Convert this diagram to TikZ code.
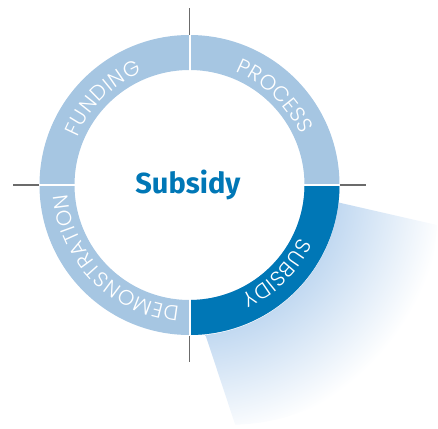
\documentclass[tikz,border=0pt]{standalone}
\usepackage{fontspec}
\usetikzlibrary{decorations.text}
\newfontfamily\ringfont{Poppins Light}
\newfontfamily\titlefont{Fira Sans Bold}
\definecolor{lightseg}{HTML}{A6C6E2}
\definecolor{darkseg}{HTML}{0077B6}
\definecolor{tickgray}{HTML}{6B6B6B}
\definecolor{fanblue}{HTML}{C2D9F1}
\pgfdeclareradialshading{fanshade}{\pgfpointorigin}{color(0pt)=(fanblue); color(150pt)=(fanblue); color(255pt)=(white); color(300pt)=(white)}
\tikzset{
  ringlabel/.style={decorate, decoration={text along path, text color=white, text align={fit to path},
    text={|\ringfont\fontsize{21pt}{21pt}\selectfont|#1}}},
  gapline/.style={white, line width=2pt},
  tickline/.style={tickgray, line width=1.2pt}
}
\begin{document}
\begin{tikzpicture}[x=1pt,y=1pt]
\useasboundingbox (-189.5,-243) rectangle (248.5,185);
% light fan
\begin{scope}
\clip (148.2,-17.3) -- (247.5,-40) arc[start angle=-2,end angle=-88.6,radius=207] -- (16,-150) arc[start angle=-83.9,end angle=-6.66,radius=150] -- cycle;
\node[inner sep=0pt,outer sep=0pt] (fan) at (0,0) {\pgfuseshading{fanshade}};
\end{scope}
% ring
\fill[lightseg, even odd rule] (0,0) circle[radius=150] (0,0) circle[radius=115];
\fill[darkseg] (0:150) arc[start angle=0,end angle=-90,radius=150] -- (-90:115) arc[start angle=-90,end angle=0,radius=115] -- cycle;
\draw[gapline] (113,0) -- (151,0);
\draw[gapline] (-113,0) -- (-151,0);
\draw[gapline] (0,113) -- (0,151);
\draw[gapline] (0,-113) -- (0,-151);
% ticks
\draw[tickline] (0,150) -- (0,177);
\draw[tickline] (0,-151) -- (0,-177);
\draw[tickline] (-150,0) -- (-176.5,0);
\draw[tickline] (150,0) -- (176.5,0);
% labels
\path[ringlabel=FUNDING] (157:122) arc[start angle=157,end angle=113,radius=122];
\path[ringlabel=PROCESS] (68:122) arc[start angle=68,end angle=24.5,radius=122];
\path[ringlabel=SUBSIDY] (-25.5:122) arc[start angle=-25.5,end angle=-64.8,radius=122];
\path[ringlabel=DEMONSTRATION] (265.3:122) arc[start angle=265.3,end angle=184.2,radius=122];
\node[anchor=base, text=darkseg, font=\titlefont\fontsize{29pt}{29pt}\selectfont, inner sep=0pt] (title) at (-1.6,-8) {Subsidy};
\end{tikzpicture}
\end{document}
